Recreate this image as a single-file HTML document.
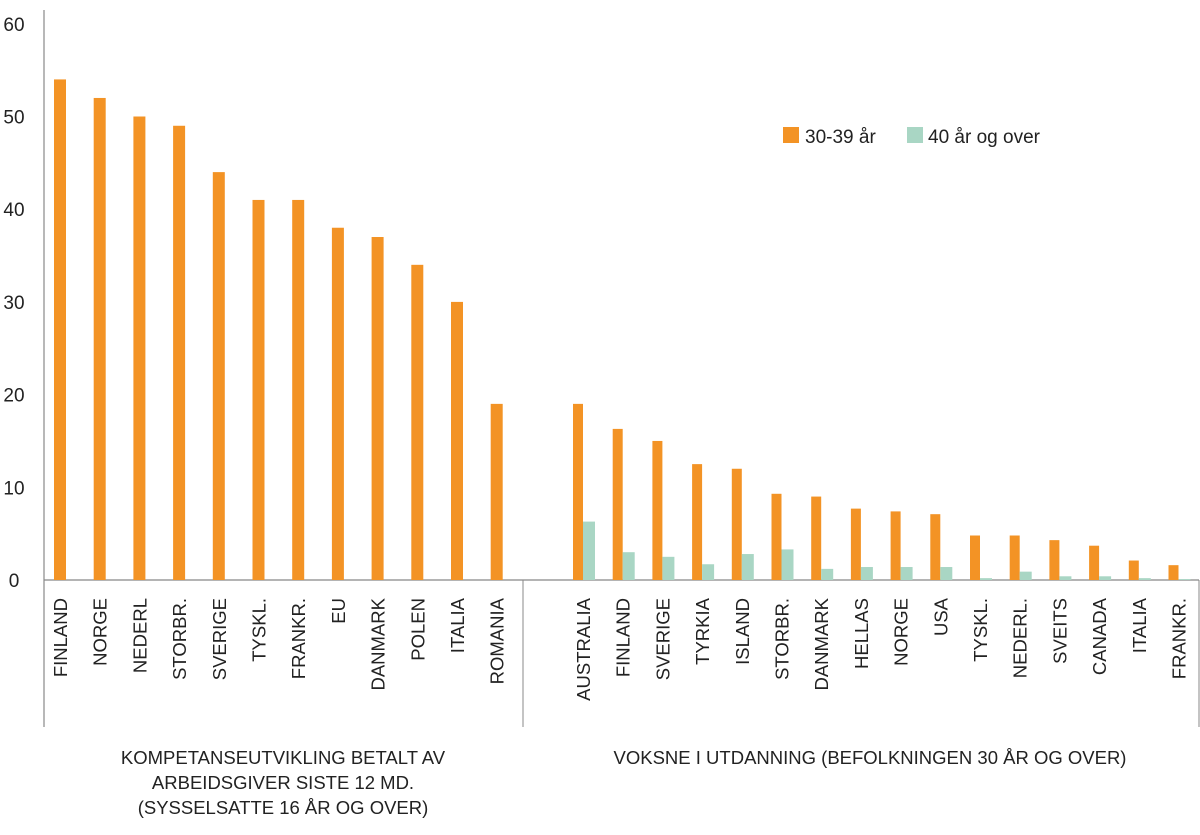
<!DOCTYPE html>
<html><head><meta charset="utf-8"><style>
body{margin:0;background:#fff;}
svg{display:block;font-family:"Liberation Sans",sans-serif;}
</style></head><body>
<svg id="c" width="1200" height="835"></svg>
<script>
const leftCats=["FINLAND","NORGE","NEDERL","STORBR.","SVERIGE","TYSKL.","FRANKR.","EU","DANMARK","POLEN","ITALIA","ROMANIA"];
const leftVals=[54,52,50,49,44,41,41,38,37,34,30,19];
const rightCats=["AUSTRALIA","FINLAND","SVERIGE","TYRKIA","ISLAND","STORBR.","DANMARK","HELLAS","NORGE","USA","TYSKL.","NEDERL.","SVEITS","CANADA","ITALIA","FRANKR."];
const rightA=[19,16.3,15,12.5,12,9.3,9,7.7,7.4,7.1,4.8,4.8,4.3,3.7,2.1,1.6];
const rightB=[6.3,3.0,2.5,1.7,2.8,3.3,1.2,1.4,1.4,1.4,0.2,0.9,0.4,0.4,0.2,0.1];
const yTicks=[0,10,20,30,40,50,60];
const NS="http://www.w3.org/2000/svg";
const svg=document.getElementById('c');
const y0=580, pxPer=9.27;
const y=v=>y0-v*pxPer;
const xl=i=>60+i*39.7;
const xr=i=>583+i*39.7;
const OR="#F39325", GR="#A9D6C4";
function mk(t,a,p){const e=document.createElementNS(NS,t);for(const k in a)e.setAttribute(k,a[k]);(p||svg).appendChild(e);return e;}
yTicks.forEach(v=>{const t=mk('text',{x:14,y:y(v)+7,'text-anchor':'middle','font-size':19,fill:'#222'});t.textContent=v;

});
let a=mk('line',{x1:44,y1:10,x2:44,y2:727,stroke:'#888','stroke-width':1.2});


a=mk('line',{x1:44,y1:580,x2:1199,y2:580,stroke:'#888','stroke-width':1.2});


a=mk('line',{x1:523,y1:580,x2:523,y2:727,stroke:'#888','stroke-width':1});


a=mk('line',{x1:1199,y1:580,x2:1199,y2:727,stroke:'#888','stroke-width':1});


function label(cx,txt){const t=mk('text',{x:0,y:0,'text-anchor':'end','font-size':18.5,fill:'#222',transform:`translate(${cx+7},598) rotate(-90)`});t.textContent=txt;

}
leftCats.forEach((c,i)=>{const r=mk('rect',{x:xl(i)-6,y:y(leftVals[i]),width:12,height:leftVals[i]*pxPer,fill:OR});


label(xl(i),c);});
rightCats.forEach((c,i)=>{const r=mk('rect',{x:xr(i)-10,y:y(rightA[i]),width:10,height:rightA[i]*pxPer,fill:OR});


const g=mk('rect',{x:xr(i),y:y(rightB[i]),width:12,height:rightB[i]*pxPer,fill:GR});


label(xr(i),c);});
a=mk('rect',{x:783,y:127,width:16,height:16,fill:OR});
a=mk('text',{x:805,y:143,'font-size':19,fill:'#222'});a.textContent='30-39 år';
a=mk('rect',{x:907,y:127,width:16,height:16,fill:GR});
a=mk('text',{x:928,y:143,'font-size':19,fill:'#222'});a.textContent='40 år og over';
[["KOMPETANSEUTVIKLING BETALT AV",283,764],["ARBEIDSGIVER SISTE 12 MD.",283,789],["(SYSSELSATTE 16 ÅR OG OVER)",283,814],["VOKSNE I UTDANNING (BEFOLKNINGEN 30 ÅR OG OVER)",870,764]].forEach(d=>{
const t=mk('text',{x:d[1],y:d[2],'text-anchor':'middle','font-size':18.5,fill:'#222'});t.textContent=d[0];

});
</script>
</body></html>
